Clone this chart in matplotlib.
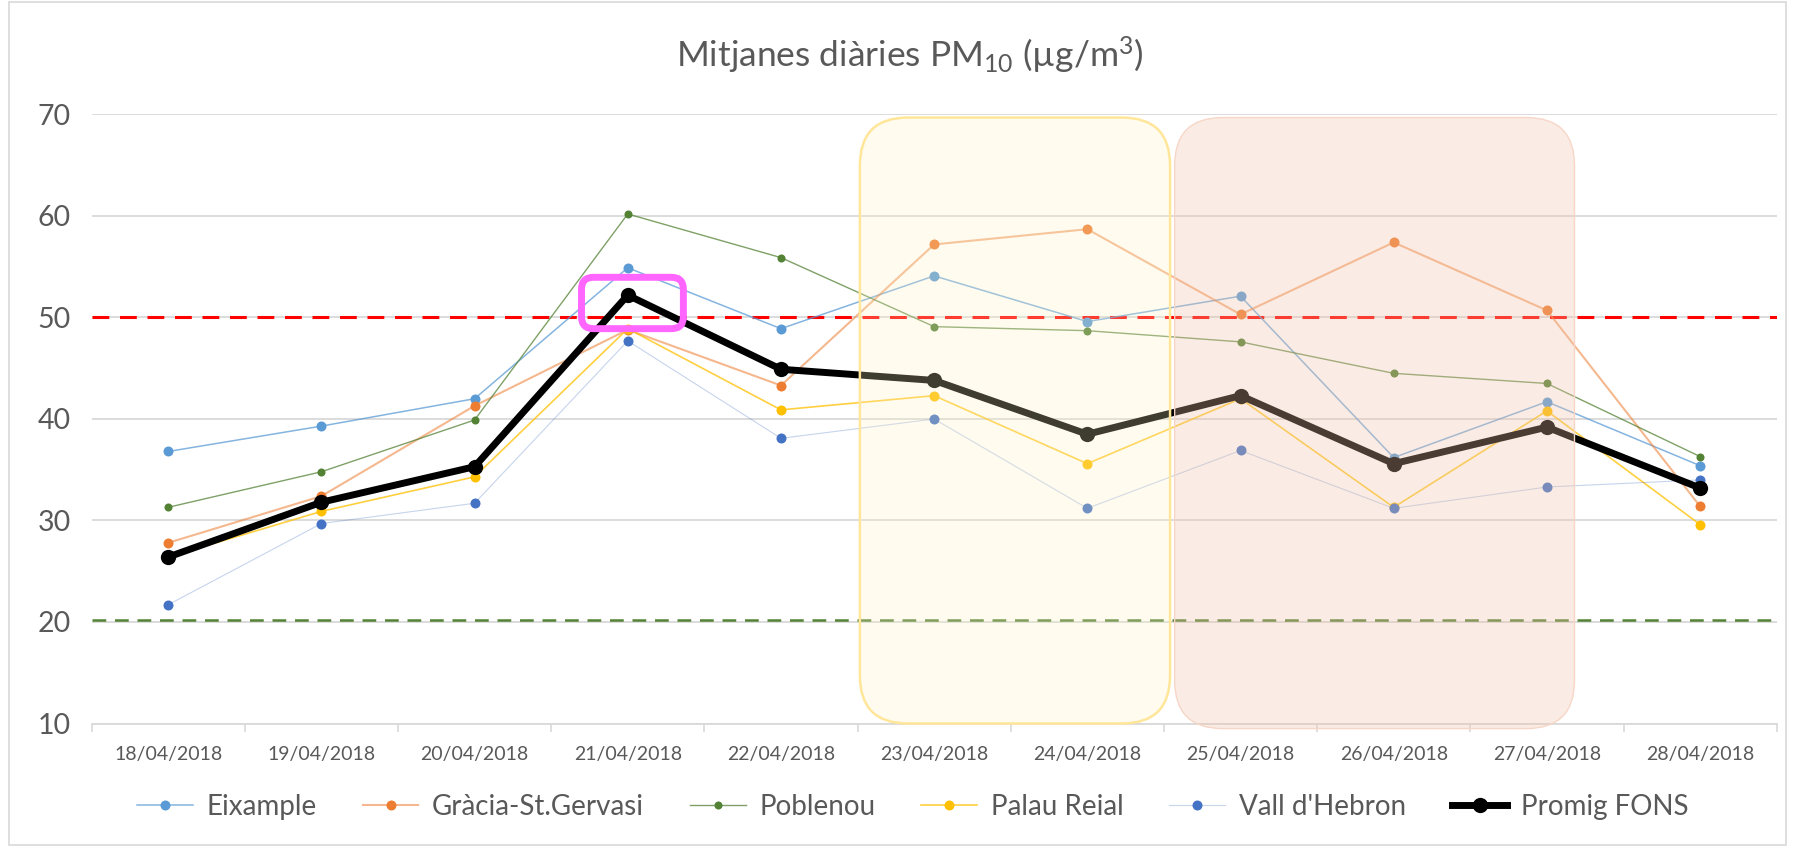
import numpy as np
import matplotlib
matplotlib.use("Agg")
import matplotlib.pyplot as plt
from matplotlib.patches import FancyBboxPatch, Rectangle

plt.rcParams['font.family'] = ['Lato', 'DejaVu Sans']
plt.rcParams['mathtext.fontset'] = 'custom'
plt.rcParams['mathtext.rm'] = 'Lato'
plt.rcParams['mathtext.it'] = 'Lato:italic'
plt.rcParams['mathtext.bf'] = 'Lato:bold'

# ---------------- data ----------------
dates = ["18/04/2018", "19/04/2018", "20/04/2018", "21/04/2018", "22/04/2018",
         "23/04/2018", "24/04/2018", "25/04/2018", "26/04/2018", "27/04/2018",
         "28/04/2018"]
eixample = [36.8, 39.3, 42.0, 54.9, 48.9, 54.1, 49.6, 52.1, 36.2, 41.7, 35.4]
gracia   = [27.8, 32.4, 41.3, 48.8, 43.3, 57.2, 58.7, 50.3, 57.4, 50.7, 31.4]
poblenou = [31.3, 34.8, 39.9, 60.2, 55.9, 49.1, 48.7, 47.6, 44.5, 43.5, 36.3]
palau    = [26.4, 30.9, 34.3, 48.9, 40.9, 42.3, 35.6, 42.0, 31.3, 40.8, 29.6]
vall     = [21.7, 29.7, 31.7, 47.7, 38.1, 40.0, 31.2, 36.9, 31.2, 33.3, 34.0]
promig   = [26.4, 31.8, 35.3, 52.2, 44.9, 43.8, 38.5, 42.3, 35.6, 39.2, 33.2]
series_names = ["Eixample", "Gràcia-St.Gervasi", "Poblenou", "Palau Reial",
                "Vall d'Hebron", "Promig FONS"]
limit_daily = 50.0
limit_who = 20.2
yticks = [10, 20, 30, 40, 50, 60, 70]

# ---------------- figure ----------------
W, H = 1795, 847
fig = plt.figure(figsize=(W / 100, H / 100), dpi=100)
fig.patch.set_facecolor('white')

ax_l, ax_r, ax_t, ax_b = 91.6, 1776.7, 114.5, 723.5
ax = fig.add_axes([ax_l / W, 1 - ax_b / H, (ax_r - ax_l) / W, (ax_b - ax_t) / H])
ax.set_facecolor('white')

x = np.arange(len(dates))
ax.set_xlim(-0.5, len(dates) - 0.5)
ax.set_ylim(10, 70)

TXT = '#595959'
GRID = '#D9D9D9'

# grid
ax.set_yticks(yticks)
ax.yaxis.grid(True, color=GRID, lw=1.3, zorder=0)
ax.set_axisbelow(True)
for s in ['top', 'right', 'left']:
    ax.spines[s].set_visible(False)
ax.spines['bottom'].set_color(GRID)
ax.spines['bottom'].set_linewidth(1.3)
ax.tick_params(axis='y', length=0, pad=15, labelsize=20.5, labelcolor=TXT)
ax.set_xticks(x)
ax.set_xticklabels(dates)
ax.tick_params(axis='x', which='major', length=0, pad=16, labelsize=14, labelcolor=TXT)
ax.set_xticks(np.arange(-0.5, len(dates), 1.0), minor=True)
ax.tick_params(axis='x', which='minor', length=6, width=1.2, color=GRID)

# reference lines
ax.axhline(limit_daily, color='#FF0000', lw=2.2, dashes=(5.5, 3.5), zorder=2)
ax.axhline(limit_who, color='#548235', lw=1.8, dashes=(5.5, 3.5), zorder=2)


def rgba(hexc, a):
    c = matplotlib.colors.to_rgba(hexc)
    return (c[0], c[1], c[2], a)


specs = [
    (eixample, '#5B9BD5', 0.75, 1.1, 7.2),
    (gracia,   '#ED7D31', 0.55, 1.5, 7.2),
    (poblenou, '#548235', 0.75, 1.0, 5.8),
    (palau,    '#FFC000', 0.75, 1.2, 7.2),
    (vall,     '#4472C4', 0.30, 0.8, 7.2),
]
handles = []
for (vals, col, la, lw, ms), name in zip(specs, series_names[:5]):
    h, = ax.plot(x, vals, color=rgba(col, la), lw=lw, marker='o', ms=ms,
                 markerfacecolor=col, markeredgecolor=col, markeredgewidth=0,
                 label=name, zorder=3)
    handles.append(h)
h, = ax.plot(x, promig, color='black', lw=5.0, marker='o', ms=11,
             markerfacecolor='black', markeredgewidth=0, label=series_names[5], zorder=4)
handles.append(h)

# highlighted periods (semi transparent overlays)
px_x = (ax_r - ax_l) / len(dates)
px_y = (ax_b - ax_t) / 60.0
aspect = px_x / px_y
rad = 48 / px_x


def period_box(x0, x1, y0, y1, fc, fa, ec, elw):
    p = FancyBboxPatch((x0, y0), x1 - x0, y1 - y0,
                       boxstyle=f"round,pad=0,rounding_size={rad}",
                       mutation_aspect=aspect, facecolor=rgba(fc, fa),
                       edgecolor=ec, lw=elw, zorder=5, clip_on=False)
    ax.add_patch(p)


period_box(4.515, 6.54, 10.0, 69.7, '#FFF0C3', 0.25, '#FFE699', 1.8)
period_box(6.57, 9.18, 9.5, 69.7, '#F2C3A8', 0.31, (0.97, 0.84, 0.78, 1.0), 1.0)

# magenta highlight around the peak
rad2 = 12 / px_x
mag = FancyBboxPatch((2.698, 48.9), 3.363 - 2.698, 53.96 - 48.9,
                     boxstyle=f"round,pad=0,rounding_size={rad2}",
                     mutation_aspect=aspect, facecolor='none',
                     edgecolor='#FF66FF', lw=5.0, zorder=6)
ax.add_patch(mag)

# title
fig.text(910 / W, 1 - 55 / H,
         r'Mitjanes diàries PM$_{\mathregular{10}}$ (µg/m$^{\mathregular{3}}$)',
         ha='center', va='center', fontsize=25.5, color=TXT)

# legend
leg = fig.legend(handles=handles, loc='center', bbox_to_anchor=(913 / W, 1 - 807 / H),
                 ncol=6, frameon=False, fontsize=20, handlelength=2.0,
                 handletextpad=0.5, columnspacing=1.65, labelcolor=TXT,
                 borderaxespad=0)

# chart border
fig.add_artist(Rectangle((9 / W, 2 / H), (W - 18) / W, (H - 4) / H,
                         transform=fig.transFigure, fill=False,
                         edgecolor=GRID, lw=1.2))

fig.savefig('out.png', dpi=100, facecolor='white')
